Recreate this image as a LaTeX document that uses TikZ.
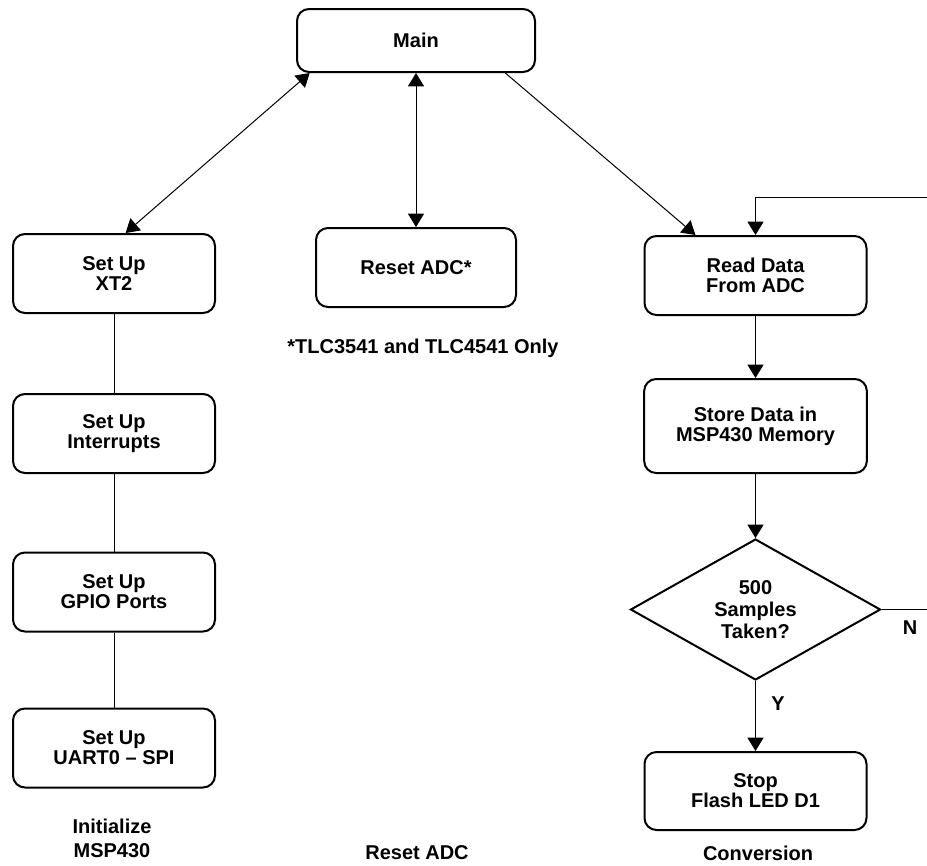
\documentclass[tikz,border=0pt]{standalone}
\usepackage{fontspec}
\setmainfont{Liberation Sans}
\usetikzlibrary{shapes.geometric,arrows.meta}

\tikzset{
  >={Triangle[length=10pt,width=12pt]},
  box/.style={draw, line width=1.5pt, rounded corners=9pt, align=center,
    inner sep=0pt, minimum height=59.25pt,
    font=\fontsize{15}{15}\selectfont\bfseries},
  dec/.style={draw, diamond, line width=1.5pt, aspect=1.77, align=center,
    inner sep=0pt, minimum width=187.5pt, minimum height=105.75pt,
    font=\fontsize{15}{16.5}\selectfont\bfseries},
  lbl/.style={align=center, inner sep=0pt,
    font=\fontsize{15}{18}\selectfont\bfseries},
  conn/.style={line width=0.75pt}
}

\begin{document}
\begin{tikzpicture}[x=0.75pt,y=-0.75pt]
    \useasboundingbox (0,0) rectangle (927,865);
    \clip (0,0) rectangle (927,865);

    \node[box, minimum width=178.5pt, minimum height=47.25pt] (main) at (416,40.5) {Main};

    \node[box, minimum width=151.5pt] (xt) at (114,273.5) {Set Up\\XT2};
    \node[box, minimum width=151.5pt] (intr) at (114,433.5) {Set Up\\Interrupts};
    \node[box, minimum width=151.5pt] (gpio) at (114,592) {Set Up\\GPIO Ports};
    \node[box, minimum width=151.5pt] (uart) at (114,748) {Set Up\\UART0 -- SPI};

    \node[box, minimum width=150pt] (rst) at (416,267.5) {Reset ADC*};

    \node[box, minimum width=166.5pt] (read) at (755.5,275.5) {Read Data\\From ADC};
    \node[box, minimum width=167pt, minimum height=70.5pt] (store) at (755.5,426) {Store Data in\\MSP430 Memory};
    \node[dec] (smp) at (755.5,609.5) {500\\Samples\\Taken?};
    \node[box, minimum width=166.5pt, minimum height=58.5pt] (stop) at (755.5,791) {Stop\\Flash LED D1};

    \node[lbl] (note) at (423,348.5) {*TLC3541 and TLC4541 Only};
    \node[lbl] (init) at (112,838) {Initialize\\MSP430};
    \node[lbl] (rstlbl) at (417,853) {Reset ADC};
    \node[lbl] (conv) at (758,853) {Conversion};
    \node[lbl] (no) at (910,628) {N};
    \node[lbl] (yes) at (778,704) {Y};

    \coordinate (c1) at (932,609.5);
    \coordinate (c2) at (932,197);

    \draw[conn,<->] (main.197) -- (xt.74);
    \draw[conn,<->] (main.south) -- (rst.north);
    \draw[conn,->] (main.340.5) -- (read.146.2);

    \draw[conn] (xt) -- (intr);
    \draw[conn] (intr) -- (gpio);
    \draw[conn] (gpio) -- (uart);

    \draw[conn,->] (read) -- (store);
    \draw[conn,->] (store) -- (smp);
    \draw[conn,->] (smp) -- (stop);
    \draw[conn,->] (smp.east) -- (c1) -- (c2) -| (read.north);
  \end{tikzpicture}
\end{document}
